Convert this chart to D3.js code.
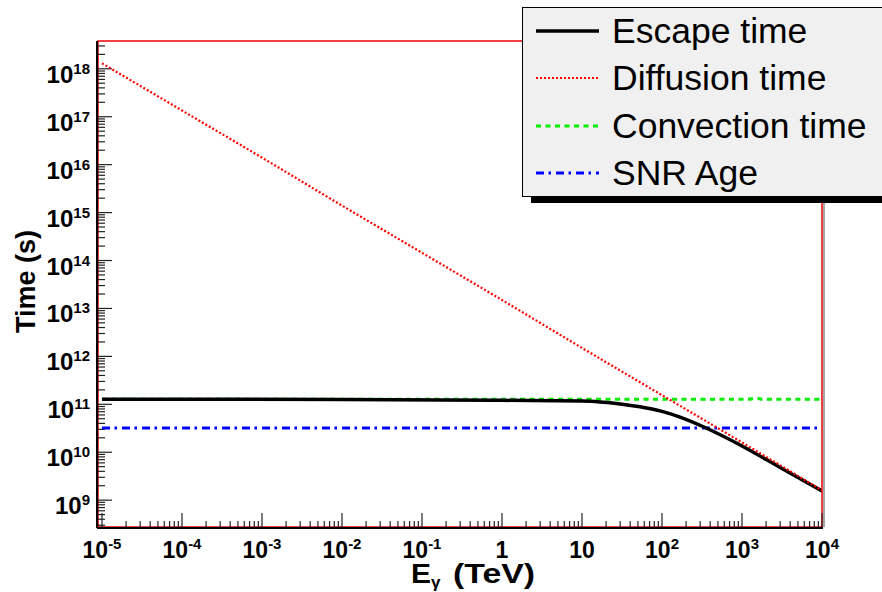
<!DOCTYPE html>
<html>
<head>
<meta charset="utf-8">
<script src="https://cdn.jsdelivr.net/npm/d3@7"></script>
<style>
  body { margin: 0; background: #fff; }
  svg { display: block; font-family: "Liberation Sans", Arial, sans-serif; }
</style>
</head>
<body>
<div id="chart"></div>
<script>
// Tick values and labels
var xTickValues = [1e-5, 1e-4, 1e-3, 1e-2, 1e-1, 1, 10, 1e2, 1e3, 1e4];
var xTickBase = ["10", "10", "10", "10", "10", "1", "10", "10", "10", "10"];
var xTickExp = ["-5", "-4", "-3", "-2", "-1", "", "", "2", "3", "4"];
var yTickValues = [1e9, 1e10, 1e11, 1e12, 1e13, 1e14, 1e15, 1e16, 1e17, 1e18];
var yTickExp = ["9", "10", "11", "12", "13", "14", "15", "16", "17", "18"];

// Series (energy in TeV, time in s)
var escapeE = [1e-5, 1e-2, 1, 10, 16.8, 30, 53, 100, 168, 356, 1000, 3000, 1e4];
var escapeT = [1.28e11, 1.26e11, 1.21e11, 1.17e11, 1.12e11, 1.02e11, 8.9e10, 7.1e10, 5.4e10, 3.2e10, 1.35e10, 4.8e9, 1.55e9];
var diffusionE = [1e-5, 1e-4, 1e-3, 1e-2, 1e-1, 1, 10, 1e2, 1e3, 1e4];
var diffusionT = [1.3e18, 1.35e17, 1.4e16, 1.4e15, 1.45e14, 1.5e13, 1.5e12, 1.55e11, 1.6e10, 1.6e9];
var convectionE = [1e-5, 1e-2, 1, 100, 1200, 1500, 1800, 1e4];
var convectionT = [1.28e11, 1.28e11, 1.28e11, 1.28e11, 1.28e11, 1.34e11, 1.28e11, 1.28e11];
var snrE = [1e-5, 1e-2, 1, 1e4];
var snrT = [3.2e10, 3.2e10, 3.2e10, 3.2e10];

var legendNames = ["Escape time", "Diffusion time", "Convection time", "SNR Age"];

var width = 882, height = 592;
var frame = { left: 98, right: 822, top: 41, bottom: 527 };

var svg = d3.select("#chart").append("svg")
    .attr("width", width)
    .attr("height", height);

// Log scales
var x = d3.scaleLog()
    .domain([Math.pow(10, -5.05), 1e4])
    .range([frame.left, frame.right]);
var y = d3.scaleLog()
    .domain([Math.pow(10, 8.44), Math.pow(10, 18.58)])
    .range([frame.bottom, frame.top]);

// Frame
svg.append("rect")
    .attr("x", frame.left).attr("y", frame.top)
    .attr("width", frame.right - frame.left)
    .attr("height", frame.bottom - frame.top)
    .attr("fill", "none")
    .attr("stroke", "#ee0000")
    .attr("stroke-width", 1.5);
svg.append("line")
    .attr("x1", frame.right + 2).attr("x2", frame.right + 2)
    .attr("y1", frame.top).attr("y2", frame.bottom)
    .attr("stroke", "#888").attr("stroke-width", 1.5);

// Minor tick values (1..9 in each decade)
function minorTicks(lo, hi) {
    var out = [];
    for (var e = lo; e <= hi; e++) {
        for (var m = 1; m <= 9; m++) out.push(m * Math.pow(10, e));
    }
    return out;
}
function isMajor(d) {
    var r = d / Math.pow(10, Math.round(Math.log10(d)));
    return Math.abs(r - 1) < 1e-6;
}

// X ticks (pointing up from bottom)
var xMinor = minorTicks(-5, 3).filter(function (v) { return v >= x.domain()[0] && v <= 1e4; });
xMinor.push(1e4);
var gx = svg.append("g");
gx.selectAll("line").data(xMinor).enter().append("line")
    .attr("x1", function (d) { return x(d); }).attr("x2", function (d) { return x(d); })
    .attr("y1", frame.bottom).attr("y2", function (d) { return frame.bottom - (isMajor(d) ? 14 : 6); })
    .attr("stroke", "#222").attr("stroke-width", 1.2);

// Y ticks (pointing right from left)
var yMinor = minorTicks(8, 18).filter(function (v) { return v >= y.domain()[0] && v <= y.domain()[1]; });
var gy = svg.append("g");
gy.selectAll("line").data(yMinor).enter().append("line")
    .attr("y1", function (d) { return y(d); }).attr("y2", function (d) { return y(d); })
    .attr("x1", frame.left).attr("x2", function (d) { return frame.left + (isMajor(d) ? 14 : 7); })
    .attr("stroke", "#222").attr("stroke-width", 1.2);

// Axis lines
svg.append("line")
    .attr("x1", frame.left - 1).attr("x2", frame.right + 1)
    .attr("y1", frame.bottom + 1).attr("y2", frame.bottom + 1)
    .attr("stroke", "#000").attr("stroke-width", 2);
svg.append("line")
    .attr("x1", frame.left - 1).attr("x2", frame.left - 1)
    .attr("y1", frame.top).attr("y2", frame.bottom + 1)
    .attr("stroke", "#000").attr("stroke-width", 2);

// X tick labels
var xLab = svg.append("g").attr("font-weight", "bold").attr("fill", "#000");
xTickValues.forEach(function (v, i) {
    var t = xLab.append("text")
        .attr("x", x(v))
        .attr("y", 558)
        .attr("text-anchor", "middle")
        .attr("font-size", 23);
    t.append("tspan").text(xTickBase[i]);
    if (xTickExp[i]) {
        t.append("tspan").attr("font-size", 15).attr("dy", -9).text(xTickExp[i]);
    }
});

// Y tick labels
var yLab = svg.append("g").attr("font-weight", "bold").attr("fill", "#000");
yTickValues.forEach(function (v, i) {
    var t = yLab.append("text")
        .attr("x", 90)
        .attr("y", y(v) + 14)
        .attr("text-anchor", "end")
        .attr("font-size", 24);
    t.append("tspan").text("10");
    t.append("tspan").attr("font-size", 15).attr("dy", -9).text(yTickExp[i]);
});

// Axis titles
var xt = svg.append("text")
    .attr("x", 411).attr("y", 583)
    .attr("font-weight", "bold").attr("font-size", 28);
xt.append("tspan").attr("textLength", 20).attr("lengthAdjust", "spacingAndGlyphs").text("E");
xt.append("tspan").attr("font-size", 17).attr("dy", 5).text("\u03b3");
svg.append("text")
    .attr("x", 453).attr("y", 583)
    .attr("font-weight", "bold").attr("font-size", 28)
    .attr("textLength", 82).attr("lengthAdjust", "spacingAndGlyphs")
    .text("(TeV)");

svg.append("text")
    .attr("transform", "translate(35,333) rotate(-90)")
    .attr("font-weight", "bold").attr("font-size", 28)
    .attr("textLength", 103).attr("lengthAdjust", "spacingAndGlyphs")
    .text("Time (s)");

// Curves
svg.append("clipPath").attr("id", "clip").append("rect")
    .attr("x", frame.left).attr("y", frame.top)
    .attr("width", frame.right - frame.left).attr("height", frame.bottom - frame.top);

var plot = svg.append("g").attr("clip-path", "url(#clip)");

function drawSeries(es, ts, color, widthPx, dash) {
    var pts = es.map(function (e, i) { return [e, ts[i]]; });
    var line = d3.line()
        .x(function (d) { return x(d[0]); })
        .y(function (d) { return y(d[1]); })
        .curve(d3.curveMonotoneX);
    plot.append("path")
        .datum(pts)
        .attr("d", line)
        .attr("fill", "none")
        .attr("stroke", color)
        .attr("stroke-width", widthPx)
        .attr("stroke-dasharray", dash);
}

var styles = [
    { color: "#000000", w: 3.5, dash: null },
    { color: "#ff0000", w: 2.2, dash: "2,2" },
    { color: "#00ee00", w: 3, dash: "5,4.5" },
    { color: "#0000ff", w: 3, dash: "8,4.5,2.5,5" }
];

drawSeries(snrE, snrT, styles[3].color, styles[3].w, styles[3].dash);
drawSeries(convectionE, convectionT, styles[2].color, styles[2].w, styles[2].dash);
drawSeries(escapeE, escapeT, styles[0].color, styles[0].w, styles[0].dash);
drawSeries(diffusionE, diffusionT, styles[1].color, styles[1].w, styles[1].dash);

// Legend
var lg = svg.append("g");
lg.append("rect")
    .attr("x", 531).attr("y", 15)
    .attr("width", 360).attr("height", 188)
    .attr("fill", "#000");
lg.append("rect")
    .attr("x", 522.5).attr("y", 7.5)
    .attr("width", 370).attr("height", 189)
    .attr("fill", "#f0f0f0")
    .attr("stroke", "#000").attr("stroke-width", 1);

var rowY = [31, 78, 126, 173];
legendNames.forEach(function (name, i) {
    lg.append("line")
        .attr("x1", 536).attr("x2", 599)
        .attr("y1", rowY[i]).attr("y2", rowY[i])
        .attr("stroke", styles[i].color)
        .attr("stroke-width", styles[i].w)
        .attr("stroke-dasharray", styles[i].dash);
    lg.append("text")
        .attr("x", 612).attr("y", rowY[i] + 12)
        .attr("font-size", 35.5)
        .attr("fill", "#000")
        .text(name);
});
</script>
</body>
</html>
